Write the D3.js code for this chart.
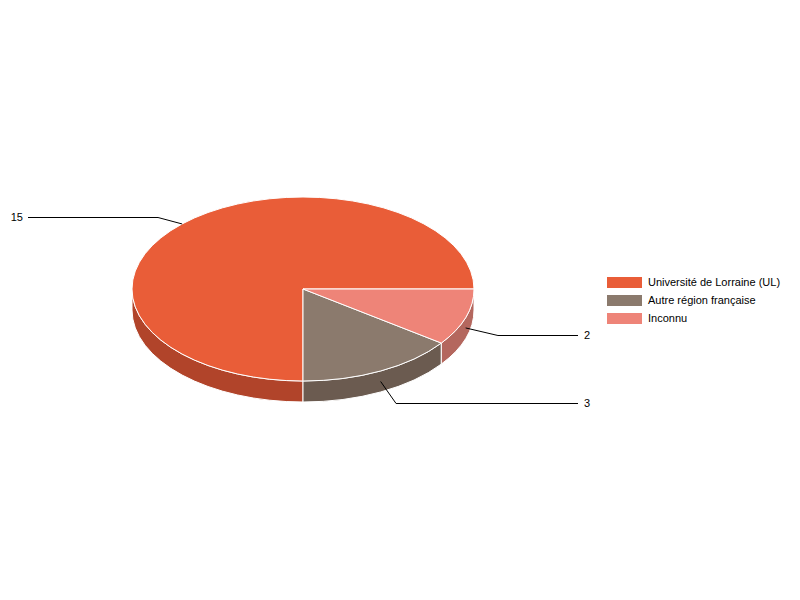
<!DOCTYPE html>
<html>
<head>
<meta charset="utf-8">
<script src="https://cdn.jsdelivr.net/npm/d3@7"></script>
<style>
  body { margin: 0; background: #fff; }
  text { font-family: "Liberation Sans", Arial, sans-serif; font-size: 11px; fill: #000; }
</style>
</head>
<body>
<div id="chart"></div>
<script>
// data
const categories = ['Université de Lorraine (UL)', 'Autre région française', 'Inconnu'];
const values = [15, 3, 2];
const topColors = ['#E95D38', '#8B7A6D', '#EE8478'];
const sideColors = ['#B1442A', '#6B5B50', '#B4675E'];

const width = 800, height = 600;
const cx = 303, cy = 289, rx = 171, ry = 92, depth = 21;

const svg = d3.select('#chart').append('svg')
    .attr('width', width)
    .attr('height', height);

// d3 pie angles are used counter-clockwise on screen, starting at 3 o'clock
const pie = d3.pie().sort(null).startAngle(0).endAngle(2 * Math.PI);
const arcs = pie(values).map((d, i) => ({
    i: i,
    lo: -d.endAngle,
    hi: -d.startAngle,
    mid: -(d.startAngle + d.endAngle) / 2
}));

const px = a => cx + rx * Math.cos(a);
const py = (a, dy = 0) => cy + ry * Math.sin(a) + dy;

function topPath(d) {
    const large = (d.hi - d.lo) > Math.PI ? 1 : 0;
    return `M${cx},${cy}L${px(d.lo)},${py(d.lo)}A${rx},${ry} 0 ${large} 1 ${px(d.hi)},${py(d.hi)}Z`;
}

// front part of a slice (screen angle inside [0, PI] modulo 2PI)
function sideParts(d) {
    let parts = [];
    for (let k = -2; k <= 1; k++) {
        let s = Math.max(d.lo, 2 * Math.PI * k), e = Math.min(d.hi, 2 * Math.PI * k + Math.PI);
        if (e - s > 1e-6) parts.push([s, e]);
    }
    return parts;
}

function sidePath(s, e) {
    return `M${px(s)},${py(s)}A${rx},${ry} 0 0 1 ${px(e)},${py(e)}` +
        `L${px(e)},${py(e, depth)}A${rx},${ry} 0 0 0 ${px(s)},${py(s, depth)}Z`;
}

const g = svg.append('g');

// side walls
arcs.forEach(d => {
    sideParts(d).forEach(([s, e]) => {
        g.append('path')
            .attr('d', sidePath(s, e))
            .attr('fill', sideColors[d.i])
            .attr('stroke', '#fff')
            .attr('stroke-width', 1);
    });
});

// top faces
g.selectAll('path.top')
    .data(arcs)
    .join('path')
    .classed('top', true)
    .attr('d', topPath)
    .attr('fill', d => topColors[d.i])
    .attr('stroke', '#fff')
    .attr('stroke-width', 1);

// labels with leader lines
const labels = svg.append('g');
arcs.forEach(d => {
    let a = d.mid;
    let front = Math.sin(a) > 0;
    let ax = px(a), ay = py(a, front ? depth / 2 : 0);
    let right = Math.cos(a) > 0;
    let ex = ax + 34 * Math.cos(a), ey = Math.round(py(a, depth / 2) + 24 * Math.sin(a)) + 0.5;
    let endX = right ? 578 : 28;
    labels.append('path')
        .attr('d', `M${ax},${ay}L${ex},${ey}L${endX},${ey}`)
        .attr('fill', 'none')
        .attr('stroke', '#000')
        .attr('stroke-width', 1);
    labels.append('text')
        .attr('x', right ? endX + 6 : endX - 5)
        .attr('y', ey)
        .attr('dy', '0.35em')
        .attr('text-anchor', right ? 'start' : 'end')
        .text(values[d.i]);
});

// legend
const legend = svg.append('g').attr('transform', 'translate(607,277)');
const rows = legend.selectAll('g')
    .data(categories)
    .join('g')
    .attr('transform', (d, i) => `translate(0,${i * 18})`);
rows.append('rect')
    .attr('width', 35)
    .attr('height', 11)
    .attr('fill', (d, i) => topColors[i]);
rows.append('text')
    .attr('x', 41)
    .attr('y', 5.5)
    .attr('dy', '0.35em')
    .text(d => d);
</script>
</body>
</html>
